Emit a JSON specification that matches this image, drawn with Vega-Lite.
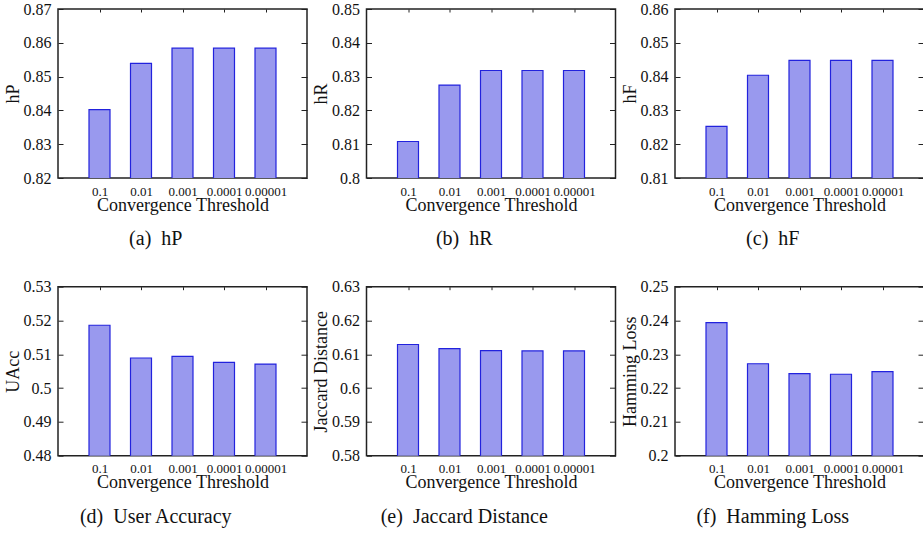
{
  "$schema": "https://vega.github.io/schema/vega-lite/v6.json",
  "padding": {"left": 3, "top": 0, "right": 0, "bottom": 0},
  "background": "white",
  "data": {"values": [
    {"t": "0.1", "hP": 0.8402, "hR": 0.8108, "hF": 0.8253, "UAcc": 0.5186, "JD": 0.6129, "HL": 0.2394},
    {"t": "0.01", "hP": 0.8539, "hR": 0.8275, "hF": 0.8404, "UAcc": 0.5089, "JD": 0.6117, "HL": 0.2272},
    {"t": "0.001", "hP": 0.8584, "hR": 0.8318, "hF": 0.8448, "UAcc": 0.5094, "JD": 0.6111, "HL": 0.2243},
    {"t": "0.0001", "hP": 0.8584, "hR": 0.8318, "hF": 0.8448, "UAcc": 0.5076, "JD": 0.6110, "HL": 0.2241},
    {"t": "0.00001", "hP": 0.8584, "hR": 0.8318, "hF": 0.8448, "UAcc": 0.5071, "JD": 0.6110, "HL": 0.2249}
  ]},
  "config": {
    "font": "Liberation Serif",
    "view": {"stroke": "#222", "strokeWidth": 1.5},
    "axis": {"domain": false, "grid": false, "labelFont": "Liberation Serif", "titleFont": "Liberation Serif", "labelColor": "#111", "titleColor": "#111", "titleFontWeight": "normal", "labelOverlap": false, "tickColor": "#222"},
    "axisX": {"ticks": false, "labelAngle": 0, "labelFontSize": 13, "labelPadding": 7, "titleFontSize": 18, "titlePadding": -2},
    "axisY": {"tickSize": -5, "labelPadding": 12, "labelFontSize": 16, "titleFontSize": 18, "titleX": -40, "titleY": 84.5, "titleBaseline": "alphabetic", "format": ".6~g"},
    "title": {"font": "Liberation Serif", "fontSize": 20, "fontWeight": "normal", "color": "#111", "orient": "bottom", "frame": "bounds", "anchor": "middle", "offset": 15}
  },
  "columns": 3,
  "spacing": {"row": 108.7, "column": 59.5},
  "bounds": "flush",
  "concat": [
    {
      "width": 249, "height": 169,
      "title": "(a)\u00a0\u00a0hP",
      "layer": [
        {"mark": {"type": "bar", "width": 21, "fill": "#9999ee", "stroke": "#2222dd", "strokeWidth": 1.2, "clip": true},
         "encoding": {
           "x": {"field": "t", "type": "ordinal", "sort": null, "scale": {"type": "point", "padding": 1}, "axis": {"title": "Convergence Threshold"}},
           "y": {"field": "hP", "type": "quantitative", "scale": {"domain": [0.82, 0.87], "nice": false, "zero": false}, "axis": {"title": "hP", "values": [0.82, 0.83, 0.84, 0.85, 0.86, 0.87]}}
         }},
        {"mark": {"type": "bar", "width": 21, "opacity": 0, "clip": true},
         "encoding": {
           "x": {"field": "t", "type": "ordinal", "sort": null, "axis": {"orient": "top", "labels": false, "title": null, "ticks": true, "tickSize": -3}},
           "y": {"field": "hP", "type": "quantitative", "scale": {"zero": false}, "axis": {"orient": "right", "labels": false, "title": null, "tickSize": -6, "values": [0.82, 0.83, 0.84, 0.85, 0.86, 0.87]}}
         }}
      ],
      "resolve": {"axis": {"x": "independent", "y": "independent"}}
    },
    {
      "width": 249, "height": 169,
      "title": "(b)\u00a0\u00a0hR",
      "layer": [
        {"mark": {"type": "bar", "width": 21, "fill": "#9999ee", "stroke": "#2222dd", "strokeWidth": 1.2, "clip": true},
         "encoding": {
           "x": {"field": "t", "type": "ordinal", "sort": null, "scale": {"type": "point", "padding": 1}, "axis": {"title": "Convergence Threshold"}},
           "y": {"field": "hR", "type": "quantitative", "scale": {"domain": [0.80, 0.85], "nice": false, "zero": false}, "axis": {"title": "hR", "values": [0.80, 0.81, 0.82, 0.83, 0.84, 0.85]}}
         }},
        {"mark": {"type": "bar", "width": 21, "opacity": 0, "clip": true},
         "encoding": {
           "x": {"field": "t", "type": "ordinal", "sort": null, "axis": {"orient": "top", "labels": false, "title": null, "ticks": true, "tickSize": -3}},
           "y": {"field": "hR", "type": "quantitative", "scale": {"zero": false}, "axis": {"orient": "right", "labels": false, "title": null, "tickSize": -6, "values": [0.80, 0.81, 0.82, 0.83, 0.84, 0.85]}}
         }}
      ],
      "resolve": {"axis": {"x": "independent", "y": "independent"}}
    },
    {
      "width": 249, "height": 169,
      "title": "(c)\u00a0\u00a0hF",
      "layer": [
        {"mark": {"type": "bar", "width": 21, "fill": "#9999ee", "stroke": "#2222dd", "strokeWidth": 1.2, "clip": true},
         "encoding": {
           "x": {"field": "t", "type": "ordinal", "sort": null, "scale": {"type": "point", "padding": 1}, "axis": {"title": "Convergence Threshold"}},
           "y": {"field": "hF", "type": "quantitative", "scale": {"domain": [0.81, 0.86], "nice": false, "zero": false}, "axis": {"title": "hF", "values": [0.81, 0.82, 0.83, 0.84, 0.85, 0.86]}}
         }},
        {"mark": {"type": "bar", "width": 21, "opacity": 0, "clip": true},
         "encoding": {
           "x": {"field": "t", "type": "ordinal", "sort": null, "axis": {"orient": "top", "labels": false, "title": null, "ticks": true, "tickSize": -3}},
           "y": {"field": "hF", "type": "quantitative", "scale": {"zero": false}, "axis": {"orient": "right", "labels": false, "title": null, "tickSize": -6, "values": [0.81, 0.82, 0.83, 0.84, 0.85, 0.86]}}
         }}
      ],
      "resolve": {"axis": {"x": "independent", "y": "independent"}}
    },
    {
      "width": 249, "height": 169,
      "title": "(d)\u00a0\u00a0User Accuracy",
      "layer": [
        {"mark": {"type": "bar", "width": 21, "fill": "#9999ee", "stroke": "#2222dd", "strokeWidth": 1.2, "clip": true},
         "encoding": {
           "x": {"field": "t", "type": "ordinal", "sort": null, "scale": {"type": "point", "padding": 1}, "axis": {"title": "Convergence Threshold"}},
           "y": {"field": "UAcc", "type": "quantitative", "scale": {"domain": [0.48, 0.53], "nice": false, "zero": false}, "axis": {"title": "UAcc", "values": [0.48, 0.49, 0.50, 0.51, 0.52, 0.53]}}
         }},
        {"mark": {"type": "bar", "width": 21, "opacity": 0, "clip": true},
         "encoding": {
           "x": {"field": "t", "type": "ordinal", "sort": null, "axis": {"orient": "top", "labels": false, "title": null, "ticks": true, "tickSize": -3}},
           "y": {"field": "UAcc", "type": "quantitative", "scale": {"zero": false}, "axis": {"orient": "right", "labels": false, "title": null, "tickSize": -6, "values": [0.48, 0.49, 0.50, 0.51, 0.52, 0.53]}}
         }}
      ],
      "resolve": {"axis": {"x": "independent", "y": "independent"}}
    },
    {
      "width": 249, "height": 169,
      "title": "(e)\u00a0\u00a0Jaccard Distance",
      "layer": [
        {"mark": {"type": "bar", "width": 21, "fill": "#9999ee", "stroke": "#2222dd", "strokeWidth": 1.2, "clip": true},
         "encoding": {
           "x": {"field": "t", "type": "ordinal", "sort": null, "scale": {"type": "point", "padding": 1}, "axis": {"title": "Convergence Threshold"}},
           "y": {"field": "JD", "type": "quantitative", "scale": {"domain": [0.58, 0.63], "nice": false, "zero": false}, "axis": {"title": "Jaccard Distance", "values": [0.58, 0.59, 0.60, 0.61, 0.62, 0.63]}}
         }},
        {"mark": {"type": "bar", "width": 21, "opacity": 0, "clip": true},
         "encoding": {
           "x": {"field": "t", "type": "ordinal", "sort": null, "axis": {"orient": "top", "labels": false, "title": null, "ticks": true, "tickSize": -3}},
           "y": {"field": "JD", "type": "quantitative", "scale": {"zero": false}, "axis": {"orient": "right", "labels": false, "title": null, "tickSize": -6, "values": [0.58, 0.59, 0.60, 0.61, 0.62, 0.63]}}
         }}
      ],
      "resolve": {"axis": {"x": "independent", "y": "independent"}}
    },
    {
      "width": 249, "height": 169,
      "title": "(f)\u00a0\u00a0Hamming Loss",
      "layer": [
        {"mark": {"type": "bar", "width": 21, "fill": "#9999ee", "stroke": "#2222dd", "strokeWidth": 1.2, "clip": true},
         "encoding": {
           "x": {"field": "t", "type": "ordinal", "sort": null, "scale": {"type": "point", "padding": 1}, "axis": {"title": "Convergence Threshold"}},
           "y": {"field": "HL", "type": "quantitative", "scale": {"domain": [0.20, 0.25], "nice": false, "zero": false}, "axis": {"title": "Hamming Loss", "values": [0.20, 0.21, 0.22, 0.23, 0.24, 0.25]}}
         }},
        {"mark": {"type": "bar", "width": 21, "opacity": 0, "clip": true},
         "encoding": {
           "x": {"field": "t", "type": "ordinal", "sort": null, "axis": {"orient": "top", "labels": false, "title": null, "ticks": true, "tickSize": -3}},
           "y": {"field": "HL", "type": "quantitative", "scale": {"zero": false}, "axis": {"orient": "right", "labels": false, "title": null, "tickSize": -6, "values": [0.20, 0.21, 0.22, 0.23, 0.24, 0.25]}}
         }}
      ],
      "resolve": {"axis": {"x": "independent", "y": "independent"}}
    }
  ]
}
